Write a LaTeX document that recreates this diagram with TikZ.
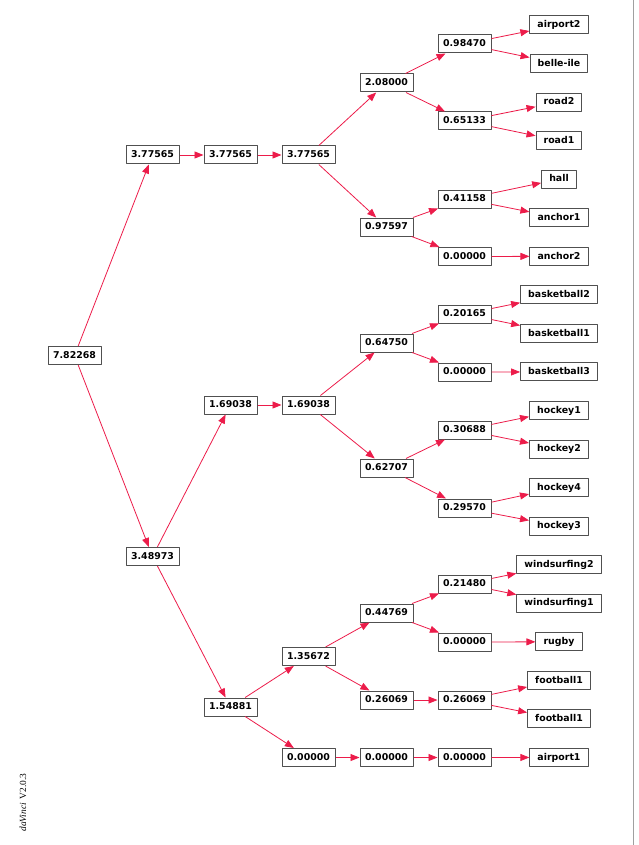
\documentclass[tikz,border=0pt]{standalone}
\usepackage{fontspec}
\setmainfont{Liberation Serif}
\newfontfamily\boxfont{DejaVu Sans}
\usetikzlibrary{arrows.meta}
\definecolor{linkred}{RGB}{236,28,74}
\definecolor{boxgray}{RGB}{80,80,80}
\definecolor{rulegray}{RGB}{160,160,160}
\begin{document}
\begin{tikzpicture}[
  x=1pt,
  y=-1pt,
  line join=round,
  val/.style={draw=boxgray,line width=1pt,fill=white,font=\boxfont\bfseries\fontsize{9.4}{10}\selectfont,
    minimum height=18pt,minimum width=53pt,inner xsep=4.8pt,inner ysep=0pt,text height=7pt,text depth=1.6pt},
  leaf/.style={val,minimum width=0pt,inner xsep=7.6pt},
  link/.style={draw=linkred,line width=0.8pt,-{Triangle[length=9pt,width=7pt]}}
]
  \useasboundingbox (0,0) rectangle (638,845);
  \draw[rulegray,line width=1.4pt] (633.5,0) -- (633.5,845);

  % Inner values.
  \node[val] (n1) at (74.5,355.5) {7.82268};
  \node[val] (a1) at (152.5,155) {3.77565};
  \node[val] (a2) at (230.5,155) {3.77565};
  \node[val] (a3) at (308.5,155) {3.77565};
  \node[val] (b1) at (386.5,83) {2.08000};
  \node[val] (b2) at (386.5,227) {0.97597};
  \node[val] (c1) at (464.5,44) {0.98470};
  \node[val] (c2) at (464.5,121) {0.65133};
  \node[val] (c3) at (464.5,199) {0.41158};
  \node[val] (c4) at (464.5,256.5) {0.00000};
  \node[val] (s) at (152.5,556.5) {3.48973};
  \node[val] (h1) at (230.5,405) {1.69038};
  \node[val] (h2) at (308.5,405) {1.69038};
  \node[val] (d1) at (386.5,343) {0.64750};
  \node[val] (d2) at (386.5,468) {0.62707};
  \node[val] (e1) at (464.5,314) {0.20165};
  \node[val] (e2) at (464.5,372) {0.00000};
  \node[val] (e3) at (464.5,430) {0.30688};
  \node[val] (e4) at (464.5,508) {0.29570};
  \node[val] (g) at (230.5,707) {1.54881};
  \node[val] (k1) at (308.5,656.5) {1.35672};
  \node[val] (k2) at (308.5,757.5) {0.00000};
  \node[val] (m1) at (386.5,613) {0.44769};
  \node[val] (m2) at (386.5,700) {0.26069};
  \node[val] (m3) at (386.5,757.5) {0.00000};
  \node[val] (p1) at (464.5,584) {0.21480};
  \node[val] (p2) at (464.5,642) {0.00000};
  \node[val] (p3) at (464.5,700) {0.26069};
  \node[val] (p4) at (464.5,757.5) {0.00000};

  % Leaves, one row each.
  \foreach \txt [count=\i from 0] in {airport2,belle-ile,road2,road1,hall,anchor1,anchor2,
      basketball2,basketball1,basketball3,hockey1,hockey2,hockey4,hockey3,
      windsurfing2,windsurfing1,rugby,football1,football1,airport1} {
    \node[leaf] (l\i) at (559,25+38.55*\i) {\txt};
  }

  % Links.
  \foreach \a/\b in {n1/a1,n1/s,a1/a2,a2/a3,a3/b1,a3/b2,b1/c1,b1/c2,b2/c3,b2/c4,
      c1/l0,c1/l1,c2/l2,c2/l3,c3/l4,c3/l5,c4/l6,
      s/h1,s/g,h1/h2,h2/d1,h2/d2,d1/e1,d1/e2,d2/e3,d2/e4,
      e1/l7,e1/l8,e2/l9,e3/l10,e3/l11,e4/l12,e4/l13,
      g/k1,g/k2,k1/m1,k1/m2,m1/p1,m1/p2,m2/p3,
      p1/l14,p1/l15,p2/l16,p3/l17,p3/l18,k2/m3,m3/p4,p4/l19} {
    \draw[link] (\a) -- (\b);
  }

  \node[rotate=90,font=\fontsize{9.4}{10}\selectfont,inner sep=0pt] (ver) at (23,802.5)
    {\textit{daVinci}\, V2.0.3};
\end{tikzpicture}
\end{document}
